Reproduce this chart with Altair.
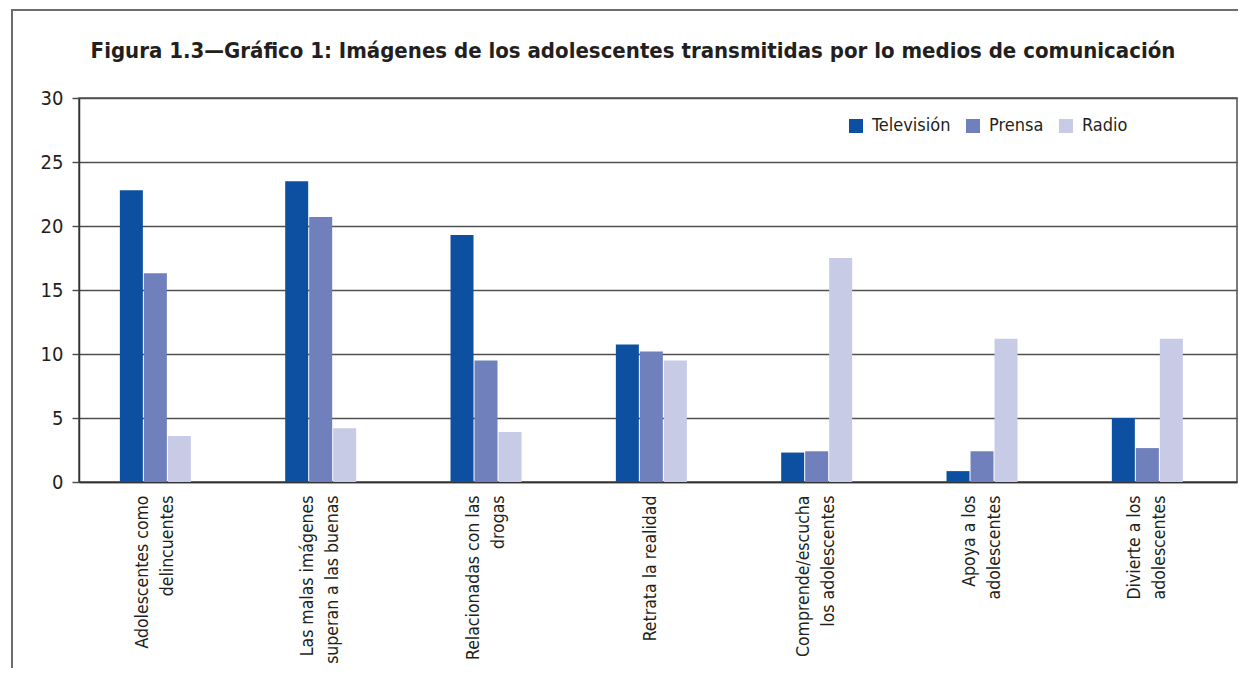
import altair as alt
import pandas as pd

categories = [
    "Adolescentes como|delincuentes",
    "Las malas imágenes|superan a las buenas",
    "Relacionadas con las|drogas",
    "Retrata la realidad",
    "Comprende/escucha|los adolescentes",
    "Apoya a los|adolescentes",
    "Divierte a los|adolescentes",
]
series = ["Televisión", "Prensa", "Radio"]
television = [22.8, 23.5, 19.3, 10.75, 2.3, 0.85, 5.0]
prensa = [16.3, 20.7, 9.5, 10.2, 2.4, 2.4, 2.65]
radio = [3.6, 4.2, 3.9, 9.5, 17.5, 11.2, 11.2]
colors = ["#0d4fa1", "#7080bd", "#c7cbe5"]
y_ticks = [0, 5, 10, 15, 20, 25, 30]
title_text = "Figura 1.3\u2014Gráfico 1: Imágenes de los adolescentes transmitidas por lo medios de comunicación"

rows = []
for i, cat in enumerate(categories):
    for name, vals in zip(series, [television, prensa, radio]):
        rows.append({"categoria": cat, "medio": name, "valor": vals[i]})
df = pd.DataFrame(rows)

TXT = "#231f20"
GRID = "#505050"
FONT = "DejaVu Sans Condensed"

bars = alt.Chart(df).mark_bar().encode(
    x=alt.X(
        "categoria:N",
        sort=categories,
        title=None,
        scale=alt.Scale(paddingInner=0.5706, paddingOuter=0.2874, align=0.43),
        axis=alt.Axis(
            labelAngle=270,
            labelAlign="right",
            labelBaseline="middle",
            labelExpr="split(datum.label, '|')",
            labelFont=FONT,
            labelFontSize=17.5,
            labelLineHeight=25,
            labelPadding=13,
            labelOffset={"condition": {"test": "indexof(datum.label, '|') >= 0", "value": -12.5}, "value": 0},
            labelColor=TXT,
            labelLimit=0,
            ticks=False,
            tickSize=0,
            domainColor="#333333",
            domainWidth=1.5,
            grid=False,
        ),
    ),
    xOffset=alt.XOffset("medio:N", sort=series, scale=alt.Scale(paddingInner=0.0417, paddingOuter=0)),
    y=alt.Y(
        "valor:Q",
        title=None,
        scale=alt.Scale(domain=[0, 30], nice=False),
        axis=alt.Axis(
            values=y_ticks,
            grid=True,
            gridColor=GRID,
            gridWidth=1.5,
            tickSize=7,
            tickColor=GRID,
            tickWidth=1.5,
            domainColor="#333333",
            domainWidth=1.5,
            labelFont=FONT,
            labelFontSize=20,
            labelPadding=9,
            labelColor=TXT,
        ),
    ),
    color=alt.Color(
        "medio:N",
        sort=series,
        scale=alt.Scale(domain=series, range=colors),
        legend=alt.Legend(
            orient="none",
            legendX=768,
            legendY=19,
            direction="horizontal",
            title=None,
            symbolType="square",
            symbolSize=196,
            symbolStrokeWidth=0,
            labelFont=FONT,
            labelFontSize=18,
            labelColor=TXT,
            labelOffset=7,
            columnPadding=13,
            padding=0,
        ),
    ),
)

frame_df = pd.DataFrame({"k": [0]})
frame_left = alt.Chart(frame_df).mark_rule(color="#6d6d6d", strokeWidth=2).encode(
    x=alt.value(-67), y=alt.value(-88), y2=alt.value(590)
)
frame_top = alt.Chart(frame_df).mark_rule(color="#6d6d6d", strokeWidth=2).encode(
    x=alt.value(-68), x2=alt.value(1170), y=alt.value(-88)
)

chart = alt.layer(frame_left, frame_top, bars).properties(
    width=1158,
    height=384,
    autosize=alt.AutoSizeParams(type="none"),
    padding={"left": 71, "top": 90, "right": 1, "bottom": 186},
    title=alt.Title(
        title_text,
        font="DejaVu Sans Condensed",
        fontSize=22,
        fontWeight="bold",
        color=TXT,
        anchor="middle",
        dx=-25,
        offset=-71,
        baseline="alphabetic",
    ),
).configure_view(stroke=GRID, strokeWidth=1.5)

chart.save("out.html", embed_options={"renderer": "svg", "actions": False})
